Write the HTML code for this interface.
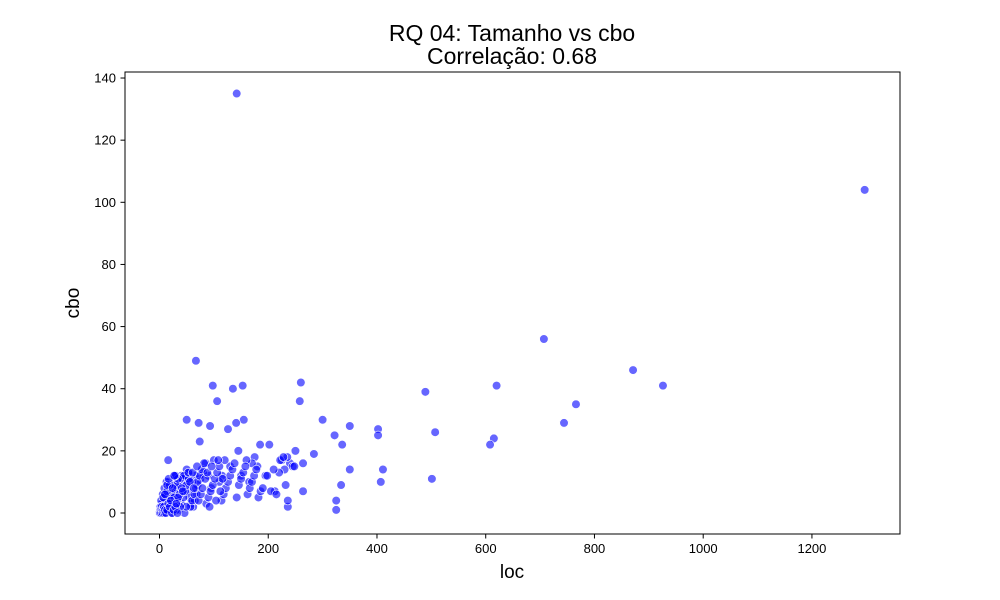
<!DOCTYPE html>
<html><head><meta charset="utf-8"><style>
body{margin:0;background:#fff;}
svg{font-family:"Liberation Sans",sans-serif;display:block}
</style></head><body>
<svg id="chart" width="1000" height="600">
<text x="512" y="41" font-size="23" text-anchor="middle">RQ 04: Tamanho vs cbo</text>
<text x="512" y="64" font-size="23" text-anchor="middle">Correlação: 0.68</text>
<rect x="125" y="72" width="775" height="462" fill="none" stroke="#000" stroke-width="1"/>
<g id="xt"></g><g id="yt"></g><g id="pts"></g>
<text x="512" y="578" font-size="19" text-anchor="middle">loc</text>
<text x="79" y="303" font-size="19" text-anchor="middle" transform="rotate(-90 79 303)">cbo</text>
</svg>
<script>
const xTicks=[0,200,400,600,800,1000,1200];
const yTicks=[0,20,40,60,80,100,120,140];
const locVals=[142,1297,707,871,926,766,744,620,615,608,489,507,501,402,402,411,407,350,350,336,322,300,325,325,334,260,258,284,264,264,236,98,153,135,67,106,50,72,155,141,126,93,74,16,185,202,
240,230,245,225,250,220,235,212,195,180,
175,170,165,160,150,145,130,120,115,110,
100,95,90,85,80,75,70,65,60,55,
50,45,40,35,30,25,20,18,15,12,
10,8,6,5,4,3,2,1,0,1,
5,8,12,15,18,22,25,28,32,35,
38,42,45,48,52,55,58,62,65,68,
3,6,9,13,16,20,24,27,30,34,
36,40,44,47,50,54,57,60,64,67,
70,74,78,82,86,90,94,98,102,106,
110,114,118,122,126,130,134,138,142,146,
150,154,158,162,166,170,174,178,182,186,
2,4,7,11,14,19,23,26,29,33,
37,41,46,49,53,56,61,63,69,72,
76,79,84,88,92,96,104,108,112,116,
10,14,17,21,24,27,31,34,38,43,
190,198,205,210,215,222,228,232,236,248,
1,2,3,4,5,6,7,8,9,10,
12,14,16,19,21,23,26,29,31,33];
const cboVals=[135,104,56,46,41,35,29,41,24,22,39,26,11,27,25,14,10,28,14,22,25,30,4,1,9,42,36,19,16,7,2,41,41,40,49,36,30,29,30,29,27,28,23,17,22,22,
16,14,15,17,20,13,18,7,12,15,
18,16,10,17,12,20,15,17,12,10,
17,8,12,16,13,11,9,12,10,13,
14,11,12,10,12,9,8,10,7,6,
5,4,3,2,3,1,1,0,0,2,
0,1,2,3,4,5,6,7,8,9,
10,11,12,9,7,5,3,2,4,6,
4,6,8,10,2,1,3,5,9,11,
1,3,5,7,9,11,2,4,6,8,
10,12,14,16,3,5,7,9,11,13,
15,4,6,8,10,12,14,16,5,9,
11,13,15,6,8,10,12,14,5,7,
2,0,5,1,7,9,0,2,12,4,
6,8,0,2,13,10,13,8,15,4,
6,8,11,13,2,15,4,17,7,11,
6,9,11,3,8,12,1,5,2,7,
8,12,7,14,6,17,18,9,4,15,
0,1,0,2,1,0,1,2,0,1,
0,1,3,2,4,0,1,2,3,0];
const X0=159.5,XS=0.5437,Y0=513,YS=3.107;
const xs=v=>X0+v*XS, ys=v=>Y0-v*YS;
const NS='http://www.w3.org/2000/svg';
const xt=document.getElementById('xt'),yt=document.getElementById('yt'),pts=document.getElementById('pts');
xTicks.forEach(t=>{
 const l=document.createElementNS(NS,'line');
 l.setAttribute('x1',xs(t));l.setAttribute('x2',xs(t));l.setAttribute('y1',534);l.setAttribute('y2',538.5);l.setAttribute('stroke','#000');
 
 
 xt.appendChild(l);
 const s=document.createElementNS(NS,'text');
 s.setAttribute('x',xs(t));s.setAttribute('y',553);s.setAttribute('font-size','13');s.setAttribute('text-anchor','middle');s.textContent=t;
 
 
 xt.appendChild(s);
});
yTicks.forEach(t=>{
 const l=document.createElementNS(NS,'line');
 l.setAttribute('x1',120.5);l.setAttribute('x2',125);l.setAttribute('y1',ys(t));l.setAttribute('y2',ys(t));l.setAttribute('stroke','#000');
 
 
 yt.appendChild(l);
 const s=document.createElementNS(NS,'text');
 s.setAttribute('x',116);s.setAttribute('y',ys(t)+4.5);s.setAttribute('font-size','13');s.setAttribute('text-anchor','end');s.textContent=t;
 
 
 yt.appendChild(s);
});
const n=Math.min(locVals.length,cboVals.length);
for(let i=0;i<n;i++){
 const c=document.createElementNS(NS,'circle');
 c.setAttribute('cx',xs(locVals[i]));c.setAttribute('cy',ys(cboVals[i]));c.setAttribute('r',4.3);
 c.setAttribute('fill','rgba(0,0,255,0.6)');c.setAttribute('stroke','#fff');c.setAttribute('stroke-width','0.6');
 
 
 pts.appendChild(c);
}
</script>
</body></html>
